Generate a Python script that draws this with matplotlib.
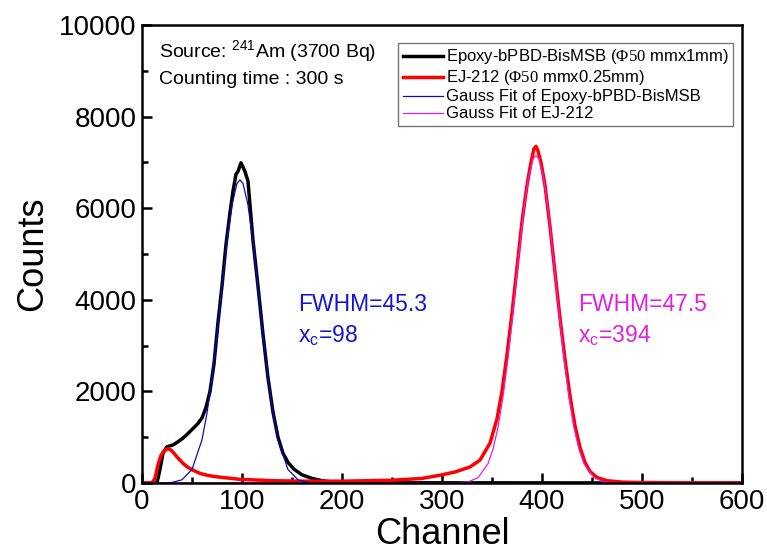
import matplotlib
matplotlib.use("Agg")
import matplotlib.pyplot as plt
from matplotlib.ticker import MultipleLocator

plt.rcParams['font.family'] = ['Liberation Sans', 'DejaVu Sans']
plt.rcParams['mathtext.fontset'] = 'custom'
plt.rcParams['mathtext.rm'] = 'Liberation Sans'
plt.rcParams['mathtext.sf'] = 'Liberation Serif'

epoxy_ch = [0, 10, 15, 18, 21, 25, 31, 36, 41, 46, 51, 56, 60, 64, 68, 72, 76,
            80, 84, 88, 91, 94, 96, 99, 101, 103, 106, 111, 116, 121, 126, 131,
            136, 141, 146, 152, 160, 170, 180, 190, 250, 600]
epoxy_cnt = [0, 0, 0, 300, 650, 790, 830, 900, 980, 1080, 1190, 1300, 1420,
             1650, 2000, 2600, 3500, 4300, 5200, 5900, 6370, 6740, 6800, 6990,
             6900, 6800, 6590, 5300, 4300, 3250, 2300, 1550, 1000, 650, 450,
             300, 180, 100, 50, 20, 5, 0]

ej_ch = [0, 10, 13, 16, 19, 22, 26, 29, 32, 35, 38, 41, 46, 51, 58, 65, 73, 81,
         98, 131, 160, 200, 250, 280, 298, 313, 328, 338, 348, 355, 360, 365,
         370, 375, 380, 385, 389, 392, 394, 396, 399, 403, 408, 413, 418, 423,
         428, 433, 438, 443, 448, 455, 465, 480, 500, 600]
ej_cnt = [0, 0, 100, 400, 600, 700, 750, 720, 650, 570, 500, 430, 340, 280, 210,
          170, 140, 120, 80, 50, 40, 40, 60, 100, 170, 240, 350, 500, 870, 1400,
          2000, 2800, 3700, 4700, 5700, 6500, 7000, 7300, 7350, 7250, 7000, 6500,
          5600, 4600, 3600, 2700, 1900, 1250, 780, 450, 250, 120, 50, 20, 10, 0]

# gauss fit curves, sampled values
fit1_ch = [0, 20, 30, 40, 50, 60, 65, 70, 75, 80, 85, 90, 95, 98, 101, 106,
           111, 116, 121, 126, 131, 136, 146, 156, 166, 176, 600]
fit1_cnt = [0, 2, 13, 70, 295, 941, 1521, 2296, 3240, 4273, 5269, 6072, 6540,
            6620, 6540, 6072, 5269, 4273, 3240, 2296, 1521, 941, 295, 70, 13,
            2, 0]

fit2_ch = [0, 316, 326, 336, 346, 351, 356, 361, 366, 371, 376, 381, 386, 391,
           394, 397, 402, 407, 412, 417, 422, 427, 432, 437, 442, 452, 462, 472,
           600]
fit2_cnt = [0, 4, 24, 115, 421, 737, 1212, 1876, 2728, 3732, 4801, 5809, 6609,
            7071, 7150, 7071, 6609, 5809, 4801, 3732, 2728, 1876, 1212, 737,
            421, 115, 24, 4, 0]

fig = plt.figure(figsize=(7.67, 5.6), dpi=100)
ax = fig.add_axes([0.1851, 0.1375, 0.7823, 0.8179])

ax.plot(epoxy_ch, epoxy_cnt, color='black', lw=2.5,
        label='Epoxy-bPBD-BisMSB ($\\mathsf{\\Phi50}$ mmx1mm)')
ax.plot(ej_ch, ej_cnt, color='#ff0000', lw=2.5,
        label='EJ-212 ($\\mathsf{\\Phi50}$ mmx0.25mm)')
ax.plot(fit1_ch, fit1_cnt, color='#0a0ac0', lw=0.9,
        label='Gauss Fit of Epoxy-bPBD-BisMSB')
ax.plot(fit2_ch, fit2_cnt, color='#e020e0', lw=0.9,
        label='Gauss Fit of EJ-212')

ax.set_xlim(0, 600)
ax.set_ylim(0, 10000)
ax.xaxis.set_major_locator(MultipleLocator(100))
ax.xaxis.set_minor_locator(MultipleLocator(50))
ax.yaxis.set_major_locator(MultipleLocator(2000))
ax.yaxis.set_minor_locator(MultipleLocator(1000))
ax.tick_params(which='both', direction='in', width=1.8, labelsize=20)
ax.tick_params(which='major', length=7, pad=4)
ax.tick_params(which='minor', length=4)
for sp in ax.spines.values():
    sp.set_linewidth(1.8)

ax.set_xlabel('Channel', fontsize=26, labelpad=2)
ax.set_ylabel('Counts', fontsize=26, labelpad=6)

ax.text(17, 9420, 'Source: $^{241}$Am (3700 Bq)', fontsize=14, va='center')
ax.text(17, 8800, 'Counting time : 300 s', fontsize=14, va='center')

ax.text(156, 3900, 'FWHM=45.3', fontsize=16.5, color='#1515d0', va='center')
ax.text(156, 3220, 'x$_{\\mathrm{c}}$=98', fontsize=16.5, color='#1515d0',
        va='center')
ax.text(436, 3900, 'FWHM=47.5', fontsize=16.5, color='#e020e0', va='center')
ax.text(436, 3220, 'x$_{\\mathrm{c}}$=394', fontsize=16.5, color='#e020e0',
        va='center')

leg = ax.legend(loc='upper right', bbox_to_anchor=(0.985, 0.96), fontsize=12,
                frameon=True, fancybox=False, edgecolor='#555555',
                handlelength=2.4, handletextpad=0.2, labelspacing=0.12,
                borderpad=0.25, borderaxespad=0)
leg.get_frame().set_linewidth(1.0)

fig.savefig('out.png', dpi=100)
